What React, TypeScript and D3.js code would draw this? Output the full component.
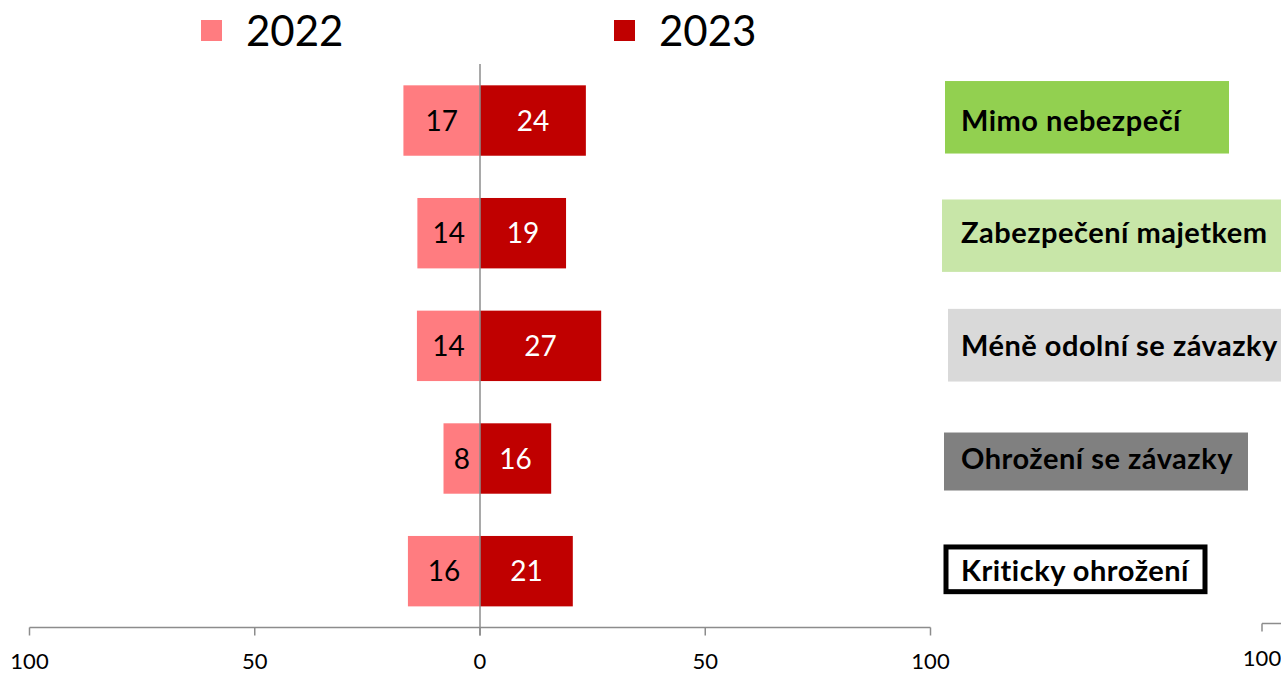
import React from "react";
import * as d3 from "d3";

const categories = [
  "Mimo nebezpečí",
  "Zabezpečení majetkem",
  "Méně odolní se závazky",
  "Ohrožení se závazky",
  "Kriticky ohrožení",
];
const values2022 = [17, 13.9, 14, 8.1, 16];
const values2023 = [23.5, 19.1, 26.9, 15.8, 20.6];
const seriesNames = ["2022", "2023"];
const xTicks = [-100, -50, 0, 50, 100];

const W = 1281;
const H = 673;
const FONT = "Lato, 'Open Sans', sans-serif";
const C2022 = "#FF7C80";
const C2023 = "#C00000";
const AXIS = "#8C8C8C";

// label panel boxes: left/right edge and top/bottom offset from the band centre
const boxes = [
  { x0: 945, x1: 1229, t: -39.5, b: 33, fill: "#92D050", stroke: "none" },
  { x0: 942, x1: 1290, t: -33.7, b: 38.7, fill: "#C8E6A8", stroke: "none" },
  { x0: 948, x1: 1290, t: -37, b: 35.7, fill: "#D9D9D9", stroke: "none" },
  { x0: 944, x1: 1248, t: -26, b: 32, fill: "#808080", stroke: "none" },
  { x0: 943.5, x1: 1207.5, t: -26.7, b: 23, fill: "#FFFFFF", stroke: "#000" },
];

export default function App() {
  const x = d3.scaleLinear().domain([-100, 100]).range([29.5, 930.5]);
  const y = d3
    .scaleBand<string>()
    .domain(categories)
    .range([64.2, 627.5])
    .paddingInner(0.375)
    .paddingOuter(0.1875);
  const x2 = d3.scaleLinear().domain([100, 0]).range([1262, 1712]);
  const fmt = d3.format(".0f");
  const axisY = 627.5;
  const bh = y.bandwidth();

  return (
    <div style={{ position: "fixed", left: 0, top: 0 }}>
      <svg width={W} height={H} style={{ display: "block", background: "#fff" }}>
        {/* legend */}
        {seriesNames.map((s, i) => {
          const lx = i === 0 ? 201 : 614;
          return (
            <g key={s}>
              <rect x={lx} y={20} width={21} height={21} fill={i === 0 ? C2022 : C2023} />
              <text x={lx + 45} y={46} fontFamily={FONT} fontSize={42} fill="#000">
                {s}
              </text>
            </g>
          );
        })}

        {/* bars */}
        {categories.map((c, i) => {
          const cy = (y(c) ?? 0) + bh / 2;
          const a = values2022[i];
          const b = values2023[i];
          return (
            <g key={c}>
              <rect x={x(-a)} y={y(c)} width={x(0) - x(-a)} height={bh} fill={C2022} />
              <rect x={x(0)} y={y(c)} width={x(b) - x(0)} height={bh} fill={C2023} />
              <text
                x={(x(-a) + x(0)) / 2}
                y={cy + 10}
                textAnchor="middle"
                fontFamily={FONT}
                fontSize={28}
                fill="#000"
              >
                {fmt(a)}
              </text>
              <text
                x={(x(b) + x(0)) / 2}
                y={cy + 10}
                textAnchor="middle"
                fontFamily={FONT}
                fontSize={28}
                fill="#fff"
              >
                {fmt(b)}
              </text>
            </g>
          );
        })}

        {/* vertical zero axis */}
        <line x1={x(0)} x2={x(0)} y1={64} y2={axisY + 8} stroke={AXIS} strokeWidth={1.5} />

        {/* bottom axis */}
        <line x1={x(-100)} x2={x(100)} y1={axisY} y2={axisY} stroke={AXIS} strokeWidth={1.5} />
        {xTicks.map((t) => (
          <g key={t}>
            <line x1={x(t)} x2={x(t)} y1={axisY} y2={axisY + 8} stroke={AXIS} strokeWidth={1.5} />
            <text
              x={x(t)}
              y={axisY + 41}
              textAnchor="middle"
              fontFamily={FONT}
              fontSize={22}
              fill="#000"
            >
              {Math.abs(t)}
            </text>
          </g>
        ))}

        {/* secondary axis, mostly off-canvas */}
        <line x1={x2(100)} x2={x2(0)} y1={623.5} y2={623.5} stroke={AXIS} strokeWidth={1.5} />
        {[100, 50, 0].map((t) => (
          <g key={"s" + t}>
            <line x1={x2(t)} x2={x2(t)} y1={623.5} y2={631.5} stroke={AXIS} strokeWidth={1.5} />
            <text
              x={x2(t)}
              y={623.5 + 42}
              textAnchor="middle"
              fontFamily={FONT}
              fontSize={22}
              fill="#000"
            >
              {t}
            </text>
          </g>
        ))}

        {/* category labels */}
        {categories.map((c, i) => {
          const cy = (y(c) ?? 0) + bh / 2;
          const bx = boxes[i];
          const sw = bx.stroke === "none" ? 0 : 5;
          return (
            <g key={"l" + c}>
              <rect
                x={bx.x0 + sw / 2}
                y={cy + bx.t + sw / 2}
                width={bx.x1 - bx.x0 - sw}
                height={bx.b - bx.t - sw}
                fill={bx.fill}
                stroke={bx.stroke}
                strokeWidth={sw}
              />
              <text
                x={961}
                y={cy + 10}
                fontFamily={FONT}
                fontWeight="bold"
                fontSize={29}
                letterSpacing={0.5}
                fill="#000"
              >
                {c}
              </text>
            </g>
          );
        })}
      </svg>
    </div>
  );
}
